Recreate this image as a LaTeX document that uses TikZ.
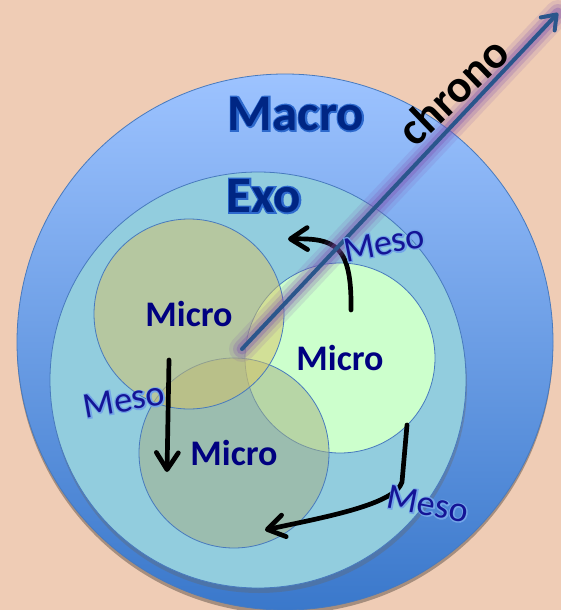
\documentclass[tikz,border=0pt]{standalone}
\usepackage{fontspec}
\setmainfont{Carlito}
\newfontface\levelstroke{Carlito Bold}[FakeBold=6]
\newfontface\mesostroke{Carlito}[FakeBold=7]
\usetikzlibrary{arrows.meta, shadows}

\definecolor{bgpeach}{RGB}{239,204,181}
\definecolor{macrotop}{RGB}{157,195,255}
\definecolor{macromid}{RGB}{126,174,243}
\definecolor{macrobot}{RGB}{58,120,203}
\definecolor{exofill}{RGB}{146,205,222}
\definecolor{ringline}{RGB}{72,122,190}
\definecolor{leftfill}{RGB}{216,195,100}
\definecolor{rightfill}{RGB}{204,255,204}
\definecolor{bottomfill}{RGB}{164,175,130}
\definecolor{micronavy}{RGB}{0,0,128}
\definecolor{levelblue}{RGB}{0,38,132}
\definecolor{levelglow}{RGB}{45,105,205}
\definecolor{mesoblue}{RGB}{20,20,150}
\definecolor{mesoglow}{RGB}{115,165,232}
\definecolor{chronoline}{RGB}{42,86,140}
\definecolor{chronoglow}{RGB}{125,80,175}

% light outline under the dark letters
\newcommand\leveltext[1]{\rlap{\levelstroke\color{levelglow}#1}\bfseries #1}
\newcommand\mesotext[1]{\rlap{\mesostroke\color{mesoglow}#1}#1}

\begin{document}
\begin{tikzpicture}[
  x=1pt, y=-1pt,
  ring/.style = {circle, draw=ringline, line width=0.8pt, inner sep=0pt},
  micro/.style = {
    ring,
    minimum size=190pt,
    fill opacity=0.5,
    text opacity=1,
    text=micronavy,
    font=\fontsize{36}{40}\selectfont\bfseries
  },
  level/.style = {font=\fontsize{51}{60}\selectfont, text=levelblue},
  meso/.style = {font=\fontsize{36}{40}\selectfont, text=mesoblue},
  flow/.style = {-{Straight Barb[length=17pt, width=22pt, round]}, line width=4.7pt, line cap=round, line join=round},
  glow/.style = {chronoglow, line cap=round, xshift=2pt, yshift=-2pt}
]

\useasboundingbox (0,0) rectangle (561,610);
\fill[bgpeach] (0,0) rectangle (561,610);

% Outer rings
\node[ring, minimum size=536pt, top color=macrotop, middle color=macromid, bottom color=macrobot,
      drop shadow={opacity=0.3, shadow xshift=0pt, shadow yshift=-4pt, fill=black}] (macro) at (285,342) {};
\node[ring, minimum size=416pt, fill=exofill,
      drop shadow={opacity=0.35, shadow xshift=1pt, shadow yshift=-5pt, fill=black!60}] (exo) at (258,380) {};

\node[level] (macrolbl) at (296,114) {\leveltext{Macro}};
\node[level] (exolbl) at (264,196) {\leveltext{Exo}};

% Micro systems
\node[micro, fill=rightfill, fill opacity=1] (microright) at (340,358) {Micro};
\node[micro, fill=bottomfill] (microbottom) at (234,453) {Micro};
\node[micro, fill=leftfill] (microleft) at (189,314) {Micro};

% === MESO FLOWS ===
\coordinate (f1s) at (351,310);
\coordinate (f1e) at (288,239);
\coordinate (f2s) at (169,360);
\coordinate (f2e) at (167,472);
\coordinate (f3s) at (407,425);
\coordinate (f3k) at (402,482);
\coordinate (f3e) at (265,530);

\draw[flow] (f1s) .. controls (352,245) and (335,238) .. (f1e);
\draw[flow] (f2s) -- (f2e);
\draw[flow] (f3s) -- (f3k) .. controls (395,505) and (320,518) .. (f3e);

% === CHRONO AXIS ===
\coordinate (now) at (242,349);
\coordinate (later) at (558,13);

\draw[glow, line width=26pt, opacity=0.14] (now) -- (later);
\draw[glow, line width=18pt, opacity=0.22] (now) -- (later);
\draw[glow, line width=11pt, opacity=0.32] (now) -- (later);
\draw[-{Straight Barb[length=13pt, width=19pt, round]}, chronoline, line width=4pt, line cap=round] (now) -- (later);

% Labels
\node[meso, rotate=11] (mesotop) at (384,243) {\mesotext{Meso}};
\node[meso, rotate=10] (mesoleft) at (124,400) {\mesotext{Meso}};
\node[meso, rotate=-11] (mesobottom) at (428,504) {\mesotext{Meso}};

\node[font=\fontsize{46}{52}\selectfont\bfseries, rotate=44] (chronolbl) at (453,91) {chrono};

\end{tikzpicture}
\end{document}
